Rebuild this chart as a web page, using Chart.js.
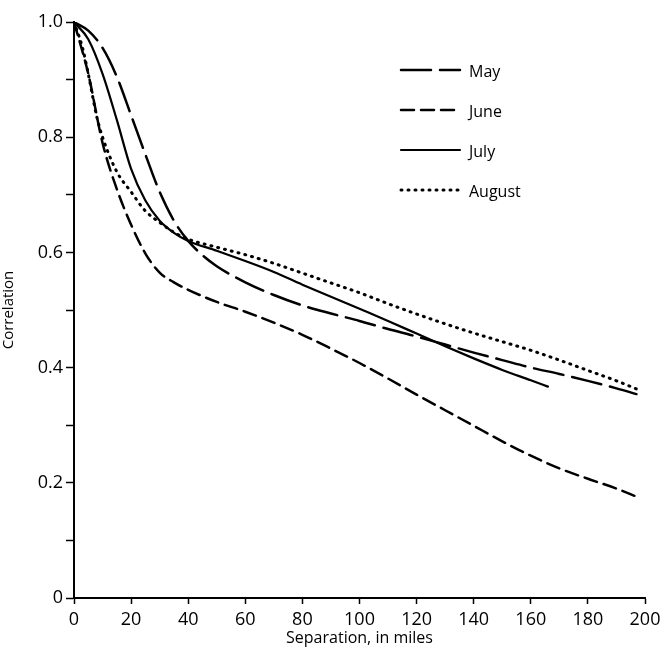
<!DOCTYPE html>
<html>
<head>
<meta charset="utf-8">
<script src="https://cdn.jsdelivr.net/npm/chart.js@4.4.1/dist/chart.umd.min.js"></script>
<style>
  html, body { margin: 0; padding: 0; background: #fff; }
  #wrap { width: 669px; height: 654px; }
</style>
</head>
<body>
<div id="wrap"><canvas id="corrChart" width="669" height="654"></canvas></div>
<script>
// separation in miles and correlation
const mayMiles = [0, 5, 10, 15, 20, 25, 30, 35, 40, 45, 50, 60, 70, 80, 90, 100, 110, 120, 130, 140, 150, 160, 170, 180, 190, 197];
const mayCorr = [1.0, 0.985, 0.955, 0.905, 0.838, 0.77, 0.705, 0.655, 0.62, 0.595, 0.576, 0.548, 0.526, 0.508, 0.494, 0.481, 0.467, 0.454, 0.44, 0.426, 0.413, 0.40, 0.389, 0.377, 0.364, 0.354];

const juneMiles = [0, 5, 10, 15, 20, 25, 30, 35, 40, 50, 60, 70, 80, 90, 100, 110, 120, 130, 140, 150, 160, 170, 180, 190, 197];
const juneCorr = [1.0, 0.91, 0.79, 0.71, 0.648, 0.598, 0.565, 0.548, 0.535, 0.514, 0.497, 0.478, 0.457, 0.433, 0.408, 0.381, 0.353, 0.326, 0.299, 0.272, 0.247, 0.225, 0.207, 0.19, 0.176];

const julyMiles = [0, 5, 10, 15, 20, 25, 30, 35, 40, 50, 60, 70, 80, 90, 100, 110, 120, 130, 140, 150, 160, 166];
const julyCorr = [1.0, 0.97, 0.91, 0.83, 0.745, 0.69, 0.655, 0.634, 0.62, 0.603, 0.585, 0.566, 0.544, 0.523, 0.502, 0.481, 0.459, 0.437, 0.416, 0.396, 0.378, 0.367];

const augMiles = [0, 3, 5, 8, 10, 15, 20, 25, 30, 35, 40, 50, 60, 70, 80, 90, 100, 110, 120, 130, 140, 150, 160, 170, 180, 190, 197];
const augCorr = [1.0, 0.955, 0.91, 0.835, 0.80, 0.74, 0.705, 0.672, 0.652, 0.635, 0.623, 0.609, 0.596, 0.581, 0.564, 0.547, 0.53, 0.511, 0.493, 0.476, 0.46, 0.445, 0.43, 0.413, 0.395, 0.377, 0.363];

const monthNames = ['May', 'June', 'July', 'August'];

const FONT = "'Open Sans', 'DejaVu Sans', sans-serif";

function toPoints(xs, ys) {
  return xs.map((x, i) => ({ x: x, y: ys[i] }));
}

function lineSet(label, xs, ys, dash, width) {
  return {
    label: label,
    data: toPoints(xs, ys),
    borderColor: '#000',
    borderWidth: width,
    borderDash: dash,
    borderCapStyle: 'round',
    pointRadius: 0,
    fill: false,
    cubicInterpolationMode: 'monotone'
  };
}

// little legend in the upper right of the plot
const legendPlugin = {
  id: 'monthLegend',
  afterDatasetsDraw(chart) {
    const ctx = chart.ctx;
    ctx.save();
    chart.data.datasets.forEach((ds, i) => {
      const y = 70 + i * 40;
      ctx.strokeStyle = '#000';
      ctx.lineWidth = ds.borderWidth;
      ctx.lineCap = 'round';
      ctx.setLineDash(ds.borderDash);
      ctx.beginPath();
      ctx.moveTo(401, y);
      ctx.lineTo(460, y);
      ctx.stroke();
      ctx.setLineDash([]);
      ctx.fillStyle = '#000';
      ctx.font = '16px ' + FONT;
      ctx.textBaseline = 'middle';
      ctx.fillText(ds.label, 469, y + 2);
    });
    ctx.restore();
  }
};

const ctx = document.getElementById('corrChart').getContext('2d');

new Chart(ctx, {
  type: 'line',
  data: {
    datasets: [
      lineSet(monthNames[0], mayMiles, mayCorr, [30, 9], 2.5),
      lineSet(monthNames[1], juneMiles, juneCorr, [13, 7], 2.5),
      lineSet(monthNames[2], julyMiles, julyCorr, [], 2.2),
      lineSet(monthNames[3], augMiles, augCorr, [1, 6], 3)
    ]
  },
  options: {
    responsive: false,
    animation: false,
    events: [],
    layout: { padding: { top: 22, right: 24, left: 0, bottom: 6 } },
    plugins: {
      legend: { display: false },
      tooltip: { enabled: false }
    },
    scales: {
      x: {
        type: 'linear',
        min: 0,
        max: 200,
        ticks: {
          stepSize: 20,
          color: '#000',
          padding: 5,
          maxRotation: 0,
          font: { family: FONT, size: 18 }
        },
        grid: { drawOnChartArea: false, color: '#000', tickLength: 6, tickWidth: 1.5 },
        border: { color: '#000', width: 2 },
        title: {
          display: true,
          text: 'Separation, in miles',
          color: '#000',
          padding: { top: 0, bottom: 0 },
          font: { family: FONT, size: 16 }
        },
        afterFit(scale) { scale.height = 50; }
      },
      y: {
        type: 'linear',
        min: 0,
        max: 1,
        ticks: {
          stepSize: 0.1,
          color: '#000',
          padding: 3,
          font: { family: FONT, size: 18 },
          callback(v) {
            const k = Math.round(v * 10);
            if (k % 2 !== 0) return '';
            return k === 0 ? '0' : (k / 10).toFixed(1);
          }
        },
        grid: { drawOnChartArea: false, color: '#000', tickLength: 8, tickWidth: 1.5 },
        border: { color: '#000', width: 2 },
        title: {
          display: true,
          text: 'Correlation',
          color: '#000',
          padding: { top: 0, bottom: 0 },
          font: { family: FONT, size: 15 }
        },
        afterFit(scale) { scale.width = 74; }
      }
    }
  },
  plugins: [legendPlugin]
});
</script>
</body>
</html>
